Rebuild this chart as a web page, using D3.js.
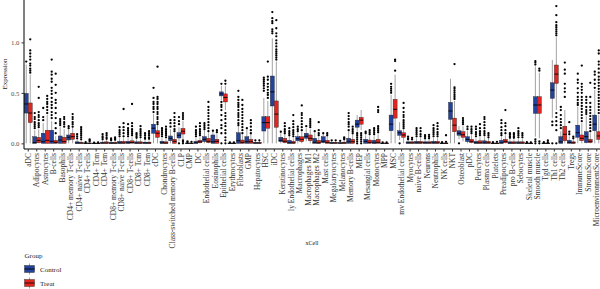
<!DOCTYPE html>
<html><head><meta charset="utf-8">
<script src="https://cdn.jsdelivr.net/npm/d3@7"></script>
<style>body{margin:0;background:#fff}svg{display:block}text{font-family:"Liberation Serif","Times New Roman",serif}</style>
</head><body><svg id="c" width="600" height="289"></svg>
<script>
const categories = ["aDC","Adipocytes","Astrocytes","B-cells","Basophils","CD4+ memory T-cells","CD4+ naive T-cells","CD4+ T-cells","CD4+ Tcm","CD4+ Tem","CD8+ memory T-cells","CD8+ naive T-cells","CD8+ T-cells","CD8+ Tcm","CD8+ Tem","cDC","Chondrocytes","Class-switched memory B-cells","CLP","CMP","DC","Endothelial cells","Eosinophils","Epithelial cells","Erythrocytes","Fibroblasts","GMP","Hepatocytes","HSC","iDC","Keratinocytes","ly Endothelial cells","Macrophages","Macrophages M1","Macrophages M2","Mast cells","Megakaryocytes","Melanocytes","Memory B-cells","MEP","Mesangial cells","Monocytes","MPP","MSC","mv Endothelial cells","Myocytes","naive B-cells","Neurons","Neutrophils","NK cells","NKT","Osteoblast","pDC","Pericytes","Plasma cells","Platelets","Preadipocytes","pro B-cells","Sebocytes","Skeletal muscle","Smooth muscle","Tgd cells","Th1 cells","Th2 cells","Tregs","ImmuneScore","StromaScore","MicroenvironmentScore"];
const groups = ["Control","Treat"];
const yTicks = [0.0, 0.5, 1.0];
// [lower whisker, q1, median, q3, upper whisker]
const ctrlStats = [
[0,0.30,0.39,0.495,0.78],[0,0,0.007,0.066,0.13],[0,0,0.016,0.10,0.2],[0,0,0.02,0.13,0.22],[0,0,0.033,0.073,0.16],
[0,0.033,0.06,0.083,0.14],[0,0,0.003,0.015,0.04],[0,0,0,0.003,0.008],[0,0,0,0.002,0.005],[0,0,0.003,0.012,0.03],
[0,0,0.002,0.01,0.02],[0,0,0.004,0.02,0.05],[0,0,0.005,0.02,0.05],[0,0,0.003,0.015,0.04],[0,0,0.003,0.012,0.03],
[0,0.10,0.15,0.19,0.29],[0,0,0.005,0.02,0.05],[0,0.026,0.05,0.073,0.14],[0.02,0.053,0.08,0.106,0.16],[0,0,0,0.003,0.008],
[0,0,0.005,0.02,0.05],[0,0.017,0.04,0.066,0.13],[0,0,0.015,0.083,0.12],[0.43,0.47,0.49,0.51,0.57],[0,0,0,0.003,0.006],
[0,0,0.026,0.105,0.17],[0,0,0.016,0.066,0.14],[0,0,0.003,0.01,0.02],[0,0.122,0.205,0.264,0.45],[0,0.37,0.51,0.667,1.04],
[0,0.017,0.03,0.06,0.1],[0,0,0.005,0.03,0.07],[0,0.026,0.045,0.066,0.1],[0.02,0.05,0.07,0.1,0.15],[0,0,0.01,0.05,0.1],
[0,0.007,0.02,0.066,0.09],[0,0,0.003,0.01,0.025],[0,0,0.002,0.008,0.02],[0,0,0.016,0.05,0.12],[0.115,0.16,0.19,0.23,0.28],
[0,0,0.02,0.04,0.08],[0,0,0.005,0.03,0.07],[0,0,0,0.003,0.006],[0,0.125,0.19,0.28,0.48],[0.033,0.08,0.105,0.125,0.21],
[0,0,0.005,0.015,0.03],[0,0,0.005,0.02,0.05],[0,0,0.005,0.015,0.04],[0,0,0.005,0.02,0.05],[0,0,0,0.003,0.008],
[0,0.238,0.32,0.406,0.64],[0.04,0.08,0.1,0.125,0.17],[0,0.017,0.04,0.066,0.12],[0,0,0.005,0.02,0.05],[0,0,0.005,0.025,0.06],
[0,0,0,0.003,0.008],[0,0,0.005,0.03,0.06],[0,0,0.003,0.015,0.04],[0,0,0.003,0.015,0.04],[0,0,0,0.003,0.008],
[0.066,0.297,0.38,0.462,0.76],[0,0,0,0.003,0.008],[0.25,0.446,0.528,0.60,0.825],[0,0,0.015,0.066,0.12],[0,0,0.01,0.03,0.07],
[0,0.06,0.105,0.18,0.36],[0,0.007,0.066,0.115,0.27],[0,0.125,0.19,0.28,0.53]];
const treatStats = [
[0,0.205,0.30,0.40,0.68],[0,0.005,0.03,0.06,0.14],[0,0,0.03,0.13,0.28],[0,0,0.01,0.03,0.07],[0,0,0.017,0.06,0.14],
[0,0.04,0.066,0.10,0.16],[0,0,0.003,0.01,0.03],[0,0,0,0.004,0.01],[0,0,0,0.002,0.005],[0,0,0.003,0.015,0.035],
[0,0,0.002,0.01,0.025],[0,0,0.004,0.02,0.05],[0,0.002,0.008,0.025,0.06],[0,0,0.003,0.015,0.04],[0,0,0.003,0.012,0.03],
[0,0.06,0.10,0.125,0.18],[0,0,0.003,0.015,0.04],[0,0,0.02,0.04,0.1],[0.04,0.092,0.12,0.148,0.22],[0,0,0,0.003,0.008],
[0,0.005,0.015,0.03,0.06],[0,0.007,0.02,0.05,0.1],[0,0,0.02,0.04,0.09],[0.33,0.41,0.455,0.49,0.57],[0,0,0,0.003,0.006],
[0,0,0.01,0.033,0.08],[0,0,0.016,0.04,0.09],[0,0,0.003,0.01,0.025],[0,0.15,0.205,0.264,0.42],[0,0.16,0.29,0.42,0.81],
[0,0.007,0.02,0.05,0.09],[0,0,0.005,0.02,0.05],[0,0.017,0.04,0.066,0.12],[0,0.026,0.05,0.083,0.14],[0,0,0.005,0.03,0.06],
[0,0,0.01,0.03,0.07],[0,0,0.003,0.01,0.02],[0,0,0.003,0.012,0.03],[0,0,0.016,0.04,0.09],[0.13,0.19,0.23,0.257,0.33],
[0,0,0.01,0.033,0.07],[0,0,0.01,0.04,0.09],[0,0,0,0.003,0.006],[0,0.25,0.337,0.436,0.68],[0,0.06,0.083,0.105,0.14],
[0,0,0.005,0.015,0.03],[0,0,0.005,0.02,0.05],[0,0,0.005,0.015,0.035],[0,0,0.005,0.02,0.05],[0,0,0,0.004,0.01],
[0,0.115,0.18,0.25,0.42],[0.02,0.06,0.085,0.115,0.17],[0,0.007,0.02,0.04,0.08],[0,0,0.005,0.025,0.06],[0,0,0.005,0.02,0.05],
[0,0,0,0.003,0.008],[0,0.005,0.02,0.04,0.08],[0,0,0.003,0.015,0.04],[0,0,0.003,0.015,0.04],[0,0,0,0.003,0.008],
[0.05,0.297,0.38,0.462,0.70],[0,0,0,0.003,0.008],[0.33,0.594,0.686,0.776,1.05],[0,0.026,0.09,0.17,0.33],[0,0,0.005,0.015,0.04],
[0,0.026,0.05,0.083,0.2],[0,0.007,0.02,0.04,0.1],[0,0.04,0.073,0.115,0.28]];
const ctrlOut = [
[0.81],[0.15,0.17,0.19,0.21,0.24,0.26,0.30],[0.23,0.26,0.35],[0.25,0.28,0.31,0.35,0.38,0.41,0.45,0.49,0.52,0.55,0.61,0.64,0.68,0.71,0.83],[0.18,0.2,0.22,0.24],
[0.15,0.17],[0.05,0.07,0.09],[0.012],[0.008],[0.04,0.055,0.07,0.09],
[0.03,0.04,0.05],[0.07,0.09,0.11,0.13,0.16],[0.07,0.09,0.11,0.13,0.15,0.19],[0.055,0.07,0.085,0.1],[0.045,0.06,0.08,0.1],
[0.31,0.34,0.36,0.39,0.41,0.45,0.55],[0.07,0.09,0.11,0.13,0.15],[0.165,0.2,0.23],[0.19,0.22,0.26,0.0],[0.012,0.02],
[0.07,0.09,0.11,0.13,0.165],[0.14,0.16,0.18,0.2],[0.125],[0.59,0.0,0.1,0.15,0.18,0.23,0.28,0.33,0.36,0.38,0.41],[0.01],
[0.18,0.2,0.23,0.26,0.28,0.3,0.33,0.36,0.38,0.4,0.43,0.46,0.52],[0.15],[0.03],[0.52,0.545,0.57,0.59,0.61,0.63,0.65],[1.09,1.11,1.13,1.19,1.21,1.24,1.30],
[0.115],[0.08,0.1,0.12,0.15],[0.12,0.14,0.165],[0.17],[0.12],
[0.1],[0.03],[0.025],[0.13,0.165,0.19,0.21,0.24,0.27,0.3],[0.0,0.02,0.04,0.06,0.08,0.1],
[0.1,0.115],[0.09,0.11,0.13,0.15],[0.01],[0.5,0.52,0.54,0.56,0.59],[0.0],
[0.04,0.05,0.066],[0.07,0.09,0.11,0.13,0.15],[0.05,0.065,0.08],[0.07,0.09,0.11,0.13,0.15,0.18],[0.012],
[],[0.0],[0.14,0.165],[0.07,0.09,0.11,0.14,0.165],[0.08,0.1,0.12,0.15,0.18,0.21,0.24,0.26],
[0.012],[0.08,0.1,0.13,0.16,0.2,0.23],[0.055,0.07,0.085,0.1],[0.06,0.08,0.1,0.12,0.15],[0.012],
[0.78,0.80,0.815,0.0,0.02,0.04],[0.012],[0.215,0.18,0.0],[0.15,0.18,0.21,0.24,0.28,0.33,0.36],[0.09,0.115,0.21],
[0.38,0.4,0.43,0.46,0.5,0.545,0.6,0.63,0.69],[0.29,0.31,0.33,0.36,0.4,0.43,0.46],[0.55,0.59,0.63,0.68,0.71]];
const treatOut = [
[0.70,0.72,0.74,0.77,0.79,0.83,0.86,0.89,0.92,1.03],[0.16,0.18,0.2,0.23,0.26,0.28,0.31,0.45,0.56],[0.30,0.33,0.36,0.39,0.41,0.44,0.47],[0.1,0.15,0.2,0.25,0.3,0.35,0.4,0.43,0.5,0.58,0.69],[0.165,0.19,0.21,0.24,0.26],
[0.165,0.19,0.21,0.24,0.26,0.29],[0.04,0.06,0.08,0.1,0.12,0.14,0.16],[0.02,0.03,0.04],[0.01],[0.045,0.06,0.08,0.1],
[0.035,0.045,0.06],[0.07,0.1,0.13,0.16,0.2,0.34],[0.08,0.1,0.12,0.14,0.17,0.2,0.39],[0.06,0.08,0.1,0.12,0.14,0.17],[0.045,0.06,0.08,0.1,0.12],
[0.19,0.21,0.24,0.26,0.29,0.31,0.34,0.36,0.39,0.41,0.44,0.46,0.76],[0.06,0.08,0.1,0.12,0.14,0.165],[0.12,0.14,0.17,0.2,0.23,0.26,0.3],[0.24,0.26,0.28,0.30,0.0,0.015,0.03],[0.015],
[0.08,0.1,0.12,0.14,0.17,0.2],[0.12,0.15,0.18,0.21,0.24,0.27,0.3,0.33,0.36,0.41],[0.11,0.13],[0.59,0.62,0.0,0.03,0.06,0.1,0.13,0.17,0.2,0.24,0.27,0.3],[0.01],
[0.1,0.13,0.16,0.19,0.22,0.25,0.28,0.31,0.34,0.38,0.43],[0.1,0.13,0.165,0.2,0.23],[0.03],[0.45,0.48,0.5,0.53,0.56,0.59,0.63,0.66,0.81],[0.83,0.85,0.87,0.89,0.91,0.93,0.96,0.99,1.02,1.06,1.09,1.14,1.22],
[0.1,0.12,0.14,0.17,0.2],[0.07,0.09,0.11,0.13,0.16,0.19,0.22,0.28],[0.13,0.16,0.19,0.22,0.25,0.28,0.3,0.376],[0.16,0.18,0.2,0.22,0.24],[0.08,0.1,0.13,0.21],
[0.08,0.1],[0.03],[0.04,0.05,0.06],[0.1,0.12,0.14,0.165],[0.0,0.02,0.04,0.06,0.08,0.1],
[0.09,0.11,0.13],[0.11,0.13,0.15,0.17,0.31,0.33,0.36],[0.01],[0.72,0.815,0.83],[0.15,0.17,0.19,0.21,0.23,0.26,0.28,0.31,0.35,0.4],
[0.04,0.055],[0.07,0.09,0.12,0.15],[0.05,0.065,0.083],[0.07,0.09,0.11,0.14,0.17,0.2],[0.015,0.08],
[0.44,0.46,0.48,0.5,0.52,0.54,0.555,0.785],[0.19,0.21,0.23,0.25],[0.1,0.12,0.14,0.165],[0.08,0.1,0.12,0.15,0.19],[0.06,0.08,0.1],
[0.015],[0.1,0.13,0.17,0.2,0.33],[0.055,0.07,0.085,0.1],[0.06,0.08,0.1],[0.01],
[0.72,0.74,0.0,0.02],[0.012,0.03],[1.07,1.09,1.11,1.13,1.15,1.17,1.2,1.27,1.36,0.3,0.26,0.22,0.18,0.13,0.0],[0.46,0.51,0.545,0.59,0.69,0.73,0.8],[0.05,0.066],
[0.22,0.25,0.28,0.31,0.34,0.37,0.4,0.43,0.46,0.5,0.53,0.56,0.59,0.77],[0.12,0.15,0.18,0.21,0.24,0.27,0.3,0.33,0.36,0.4,0.46,0.6],[0.3,0.33,0.36,0.39,0.42,0.45,0.48,0.51,0.54,0.57,0.6,0.63,0.66,0.7,0.74,0.78,0.81,0.89,0.92]];

const colors = {Control:"#22429b", Treat:"#e2261f"};
const svg = d3.select("#c");
const L = 24, R = 601, T = 0, B = 149;
const x = d3.scaleBand().domain(categories).range([L, R]).padding(0);
const y = d3.scaleLinear().domain([-0.056, 1.42]).range([B, T]);
const bw = 4;

const stats = {Control: ctrlStats, Treat: treatStats};
const outs = {Control: ctrlOut, Treat: treatOut};
const plot = svg.append("g");
groups.forEach((g, gi) => {
  categories.forEach((c, i) => {
    const s = stats[g][i];
    const cx = x(c) + x.bandwidth()/2 + (gi === 0 ? -bw/2 : bw/2);
    const gg = plot.append("g");
    gg.append("line").attr("x1", cx).attr("x2", cx).attr("y1", y(s[0])).attr("y2", y(s[4]))
      .attr("stroke", "#8a8a8a").attr("stroke-width", 0.8);
    gg.append("rect").attr("x", cx - bw/2).attr("width", bw)
      .attr("y", y(s[3])).attr("height", Math.max(0.6, y(s[1]) - y(s[3])))
      .attr("fill", colors[g]).attr("stroke", "#222").attr("stroke-width", 0.4);
    gg.append("line").attr("x1", cx - bw/2).attr("x2", cx + bw/2).attr("y1", y(s[2])).attr("y2", y(s[2]))
      .attr("stroke", "#000").attr("stroke-width", 0.9);
  });
});
groups.forEach((g, gi) => {
  categories.forEach((c, i) => {
    const cx = x(c) + x.bandwidth()/2 + (gi === 0 ? -bw/2 : bw/2);
    plot.append("g").selectAll("circle").data(outs[g][i]).join("circle")
      .attr("cx", cx).attr("cy", d => y(d)).attr("r", 1.15).attr("fill", "#000");
  });
});

// axes
const yAxis = svg.append("g").attr("transform", `translate(${L},0)`)
  .call(d3.axisLeft(y).tickValues(yTicks).tickFormat(d3.format(".1f")).tickSize(2.5).tickPadding(2));
yAxis.select(".domain").attr("d", `M0,${T}V${B}`).attr("stroke", "#000").attr("stroke-width", 1);
yAxis.selectAll(".tick line").attr("stroke", "#333");
yAxis.selectAll("text").attr("font-size", 6.8).attr("fill", "#4d4d4d").style("font-family", '"Liberation Serif",serif');

const xAxis = svg.append("g").attr("transform", `translate(0,${B})`)
  .call(d3.axisBottom(x).tickSize(2.5).tickPadding(2));
xAxis.select(".domain").attr("d", `M${L},0H600`).attr("stroke", "#000").attr("stroke-width", 1);
xAxis.selectAll(".tick line").attr("stroke", "#333");
xAxis.selectAll("text").attr("font-size", 7.5).attr("fill", "#333").style("font-family", '"Liberation Serif",serif')
  .attr("text-anchor", "end").attr("transform", "rotate(-90)").attr("x", -4).attr("y", 0).attr("dy", "0.35em");

svg.append("text").attr("transform", `translate(7,74) rotate(-90)`).attr("text-anchor", "middle")
  .attr("font-size", 7).attr("fill", "#222").text("Expression");
svg.append("text").attr("x", 312).attr("y", 245).attr("text-anchor", "middle")
  .attr("font-size", 6).attr("fill", "#222").text("xCell");

// legend
const lg = svg.append("g");
lg.append("text").attr("x", 24.5).attr("y", 258).attr("font-size", 7).attr("fill", "#222").text("Group");
groups.forEach((g, i) => {
  const ky = 265.5 + i * 14;
  const k = lg.append("g");
  k.append("line").attr("x1", 29.5).attr("x2", 29.5).attr("y1", ky - 2).attr("y2", ky + 9).attr("stroke", "#8a8a8a").attr("stroke-width", 0.8);
  k.append("rect").attr("x", 24.5).attr("y", ky).attr("width", 10).attr("height", 7)
    .attr("fill", colors[g]).attr("stroke", "#222").attr("stroke-width", 0.4);
  k.append("line").attr("x1", 24.5).attr("x2", 34.5).attr("y1", ky + 3.5).attr("y2", ky + 3.5).attr("stroke", "#000").attr("stroke-width", 0.8);
  k.append("text").attr("x", 40).attr("y", ky + 6).attr("font-size", 7).attr("fill", "#222").text(g);
});
</script></body></html>
